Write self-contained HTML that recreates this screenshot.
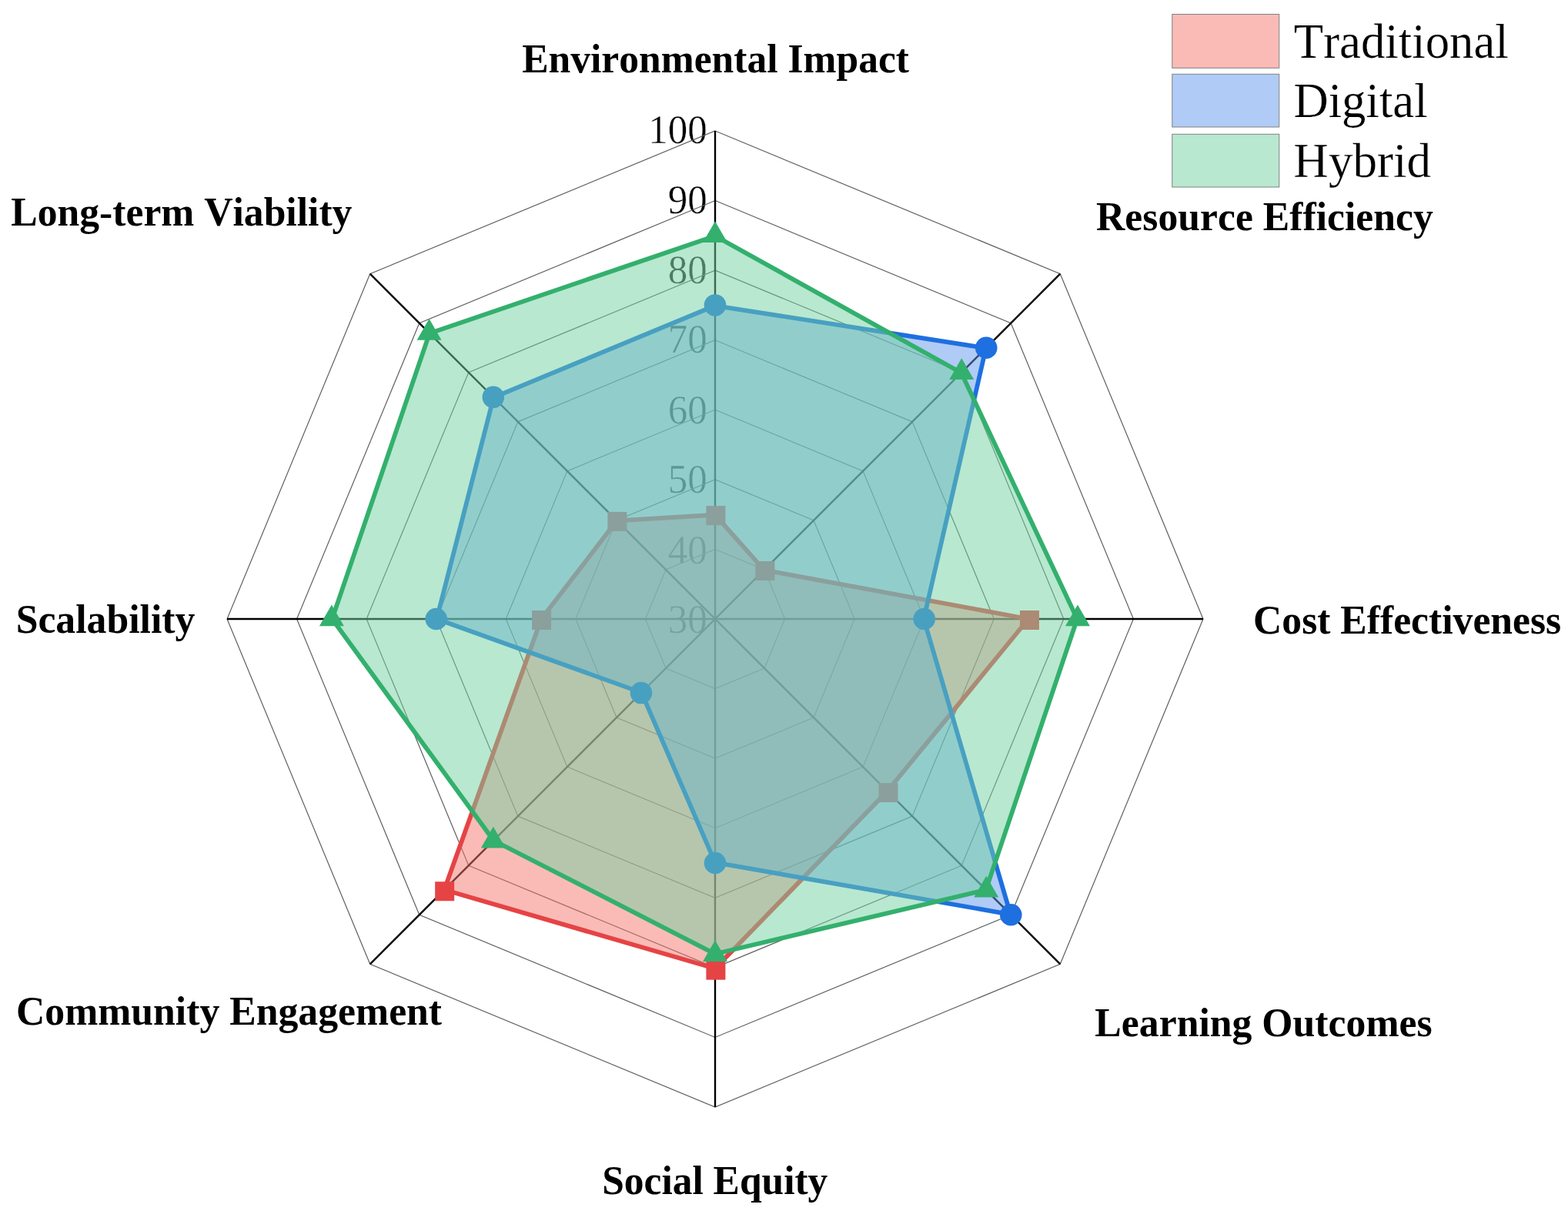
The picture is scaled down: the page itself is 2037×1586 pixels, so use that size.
<!DOCTYPE html>
<html lang="en"><head><meta charset="utf-8"><title>Radar chart</title>
<style>html,body{margin:0;padding:0;background:#fff}body{width:2037px;height:1586px}svg{display:block}text{font-family:"Liberation Serif","DejaVu Serif",serif;fill:#000;font-kerning:none}.ax{font-weight:bold}.dim{fill:#242424}.thin{stroke:#fff;stroke-width:0.4px;paint-order:fill stroke}.thin2{stroke:#fff;stroke-width:0.25px;paint-order:fill stroke}</style></head><body>
<svg width="2037" height="1586" viewBox="0 0 2037 1586">
<rect width="2037" height="1586" fill="#fff"/>
<g font-size="53.0" class="thin">
<text class="dim" transform="translate(867.64,822.30) scale(0.962,1)">30</text>
<text class="dim" transform="translate(867.64,731.53) scale(0.962,1)">40</text>
<text class="dim" transform="translate(867.64,640.31) scale(0.962,1)">50</text>
<text class="dim" transform="translate(867.64,549.89) scale(0.962,1)">60</text>
<text class="dim" transform="translate(867.64,458.31) scale(0.962,1)">70</text>
<text class="dim" transform="translate(867.64,367.79) scale(0.962,1)">80</text>
<text transform="translate(867.64,277.07) scale(0.962,1)">90</text>
<text transform="translate(842.15,185.90) scale(0.962,1)">100</text>
</g>
<g fill="none" stroke="#606060" stroke-width="1.2">
<polygon points="929.00,713.43 993.04,739.96 1019.57,804.00 993.04,868.04 929.00,894.57 864.96,868.04 838.43,804.00 864.96,739.96"/>
<polygon points="929.00,622.86 1057.09,675.91 1110.14,804.00 1057.09,932.09 929.00,985.14 800.91,932.09 747.86,804.00 800.91,675.91"/>
<polygon points="929.00,532.29 1121.13,611.87 1200.71,804.00 1121.13,996.13 929.00,1075.71 736.87,996.13 657.29,804.00 736.87,611.87"/>
<polygon points="929.00,441.71 1185.17,547.83 1291.29,804.00 1185.17,1060.17 929.00,1166.29 672.83,1060.17 566.71,804.00 672.83,547.83"/>
<polygon points="929.00,351.14 1249.22,483.78 1381.86,804.00 1249.22,1124.22 929.00,1256.86 608.78,1124.22 476.14,804.00 608.78,483.78"/>
<polygon points="929.00,260.57 1313.26,419.74 1472.43,804.00 1313.26,1188.26 929.00,1347.43 544.74,1188.26 385.57,804.00 544.74,419.74"/>
<polygon points="929.00,170.00 1377.31,355.69 1563.00,804.00 1377.31,1252.31 929.00,1438.00 480.69,1252.31 295.00,804.00 480.69,355.69"/>
</g>
<g stroke="#000" stroke-width="2.4">
<line x1="929.0" y1="804.0" x2="929.00" y2="170.00"/>
<line x1="929.0" y1="804.0" x2="1377.31" y2="355.69"/>
<line x1="929.0" y1="804.0" x2="1563.00" y2="804.00"/>
<line x1="929.0" y1="804.0" x2="1377.31" y2="1252.31"/>
<line x1="929.0" y1="804.0" x2="929.00" y2="1438.00"/>
<line x1="929.0" y1="804.0" x2="480.69" y2="1252.31"/>
<line x1="929.0" y1="804.0" x2="295.00" y2="804.00"/>
<line x1="929.0" y1="804.0" x2="480.69" y2="355.69"/>
</g>
<g>
<polygon points="929.00,668.74 992.62,740.38 1335.97,804.00 1152.73,1027.73 929.00,1258.07 577.18,1155.82 703.17,804.00 801.34,676.34" fill="#f5776f" fill-opacity="0.5" stroke="none"/>
<polygon points="929.00,668.74 992.62,740.38 1335.97,804.00 1152.73,1027.73 929.00,1258.07 577.18,1155.82 703.17,804.00 801.34,676.34" fill="none" stroke="#e64345" stroke-width="5.8" stroke-linejoin="round"/>
<rect x="917.40" y="657.14" width="25.0" height="25.0" fill="#e64345"/>
<rect x="981.44" y="728.96" width="25.0" height="25.0" fill="#e64345"/>
<rect x="1324.97" y="793.00" width="25.0" height="25.0" fill="#e64345"/>
<rect x="1141.55" y="1017.15" width="25.0" height="25.0" fill="#e64345"/>
<rect x="917.40" y="1247.67" width="25.0" height="25.0" fill="#e64345"/>
<rect x="565.16" y="1145.24" width="25.0" height="25.0" fill="#e64345"/>
<rect x="690.97" y="793.00" width="25.0" height="25.0" fill="#e64345"/>
<rect x="789.31" y="664.91" width="25.0" height="25.0" fill="#e64345"/>
</g>
<g>
<polygon points="929.00,397.03 1280.82,452.18 1200.11,804.00 1312.84,1187.84 929.00,1120.40 833.36,899.64 567.31,804.00 641.23,516.23" fill="#6197eb" fill-opacity="0.5" stroke="none"/>
<polygon points="929.00,397.03 1280.82,452.18 1200.11,804.00 1312.84,1187.84 929.00,1120.40 833.36,899.64 567.31,804.00 641.23,516.23" fill="none" stroke="#1e6fe0" stroke-width="5.8" stroke-linejoin="round"/>
<circle cx="929.00" cy="396.43" r="14.3" fill="#1e6fe0"/>
<circle cx="1281.24" cy="451.76" r="14.3" fill="#1e6fe0"/>
<circle cx="1200.71" cy="804.00" r="14.3" fill="#1e6fe0"/>
<circle cx="1313.26" cy="1188.26" r="14.3" fill="#1e6fe0"/>
<circle cx="929.00" cy="1121.00" r="14.3" fill="#1e6fe0"/>
<circle cx="832.93" cy="900.07" r="14.3" fill="#1e6fe0"/>
<circle cx="566.71" cy="804.00" r="14.3" fill="#1e6fe0"/>
<circle cx="640.80" cy="515.80" r="14.3" fill="#1e6fe0"/>
</g>
<g>
<polygon points="929.00,306.46 1248.79,484.21 1399.37,804.00 1280.82,1155.82 929.00,1239.05 641.23,1091.77 431.46,804.00 557.97,432.97" fill="#71d1a1" fill-opacity="0.5" stroke="none"/>
<polygon points="929.00,306.46 1248.79,484.21 1399.37,804.00 1280.82,1155.82 929.00,1239.05 641.23,1091.77 431.46,804.00 557.97,432.97" fill="none" stroke="#33b06d" stroke-width="5.8" stroke-linejoin="round"/>
<polygon points="929.00,287.39 913.00,315.09 945.00,315.09" fill="#33b06d"/>
<polygon points="1249.22,465.31 1233.22,493.01 1265.22,493.01" fill="#33b06d"/>
<polygon points="1399.97,785.53 1383.97,813.23 1415.97,813.23" fill="#33b06d"/>
<polygon points="1281.24,1137.77 1265.24,1165.47 1297.24,1165.47" fill="#33b06d"/>
<polygon points="929.00,1221.18 913.00,1248.88 945.00,1248.88" fill="#33b06d"/>
<polygon points="640.80,1073.73 624.80,1101.43 656.80,1101.43" fill="#33b06d"/>
<polygon points="430.86,785.53 414.86,813.23 446.86,813.23" fill="#33b06d"/>
<polygon points="557.55,414.08 541.55,441.78 573.55,441.78" fill="#33b06d"/>
</g>
<g class="ax" font-size="53.8">
<text transform="translate(678.14,93.60) scale(0.9590,1)">Environmental Impact</text>
<text transform="translate(1424.04,298.60) scale(0.9608,1)">Resource Efficiency</text>
<text transform="translate(1628.06,822.60) scale(0.9601,1)">Cost Effectiveness</text>
<text transform="translate(1422.34,1346.40) scale(0.9619,1)">Learning Outcomes</text>
<text transform="translate(782.17,1551.00) scale(0.9571,1)">Social Equity</text>
<text transform="translate(20.96,1330.70) scale(0.9615,1)">Community Engagement</text>
<text transform="translate(20.66,822.00) scale(0.9613,1)">Scalability</text>
<text transform="translate(14.34,293.00) scale(0.9597,1)">Long-term Viability</text>
</g>
<g font-size="63.8">
<rect x="1522.8" y="18.5" width="139" height="69.8" fill="#f5776f" fill-opacity="0.5" stroke="#808080" stroke-width="1"/>
<text class="thin2" transform="translate(1680.87,74.80) scale(0.9840,1)">Traditional</text>
<rect x="1522.8" y="96.3" width="139" height="68.7" fill="#6197eb" fill-opacity="0.5" stroke="#808080" stroke-width="1"/>
<text class="thin2" transform="translate(1680.38,151.90) scale(0.9836,1)">Digital</text>
<rect x="1522.8" y="174.3" width="139" height="68.7" fill="#71d1a1" fill-opacity="0.5" stroke="#808080" stroke-width="1"/>
<text class="thin2" transform="translate(1680.37,230.00) scale(0.9891,1)">Hybrid</text>
</g>
</svg></body></html>
